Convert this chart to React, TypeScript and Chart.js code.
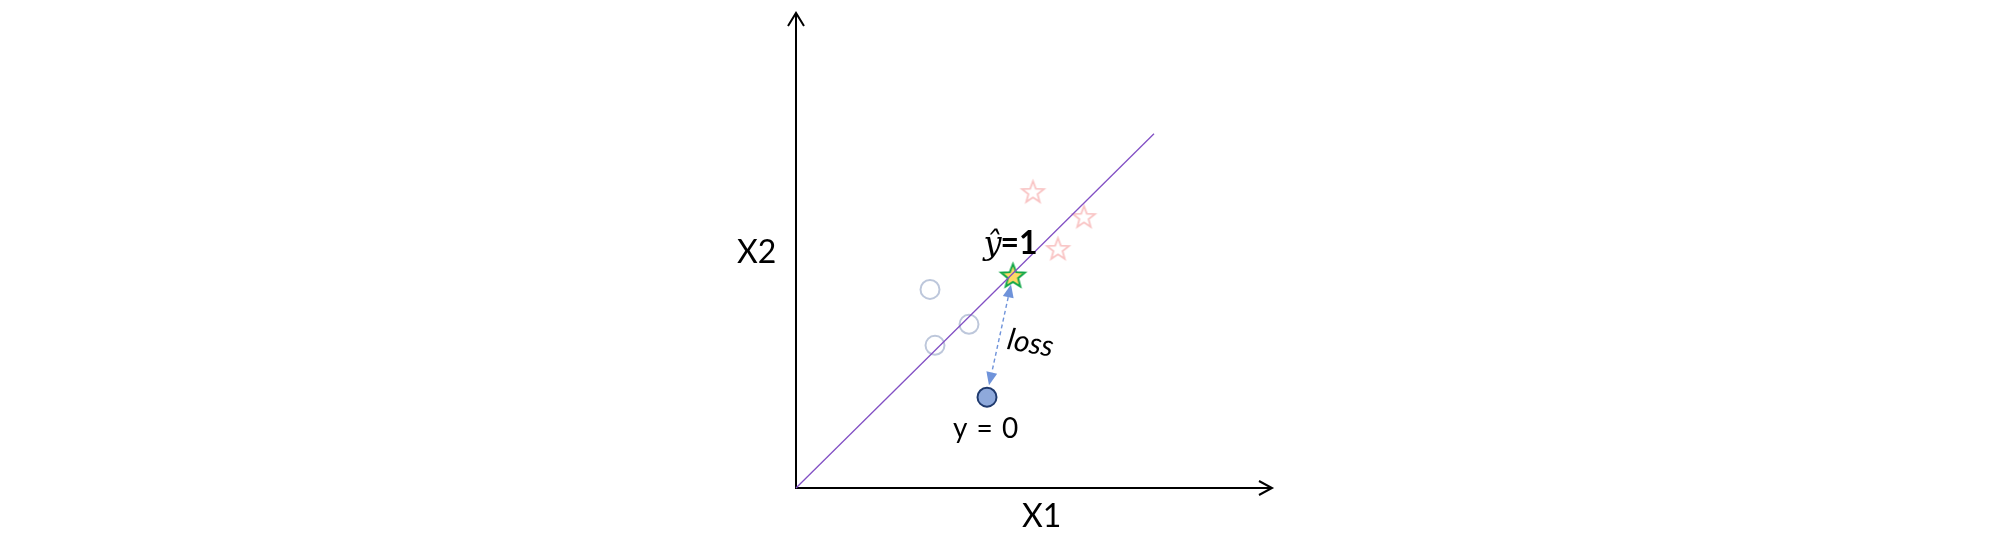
import React, { useEffect, useRef } from "react";
import { Chart, registerables } from "chart.js";
Chart.register(...registerables);

// axis extents (data units)
const AXIS_X_MAX = 47.6;
const AXIS_Y_MAX = 47.6;

// decision boundary
const boundaryX = [0, 35.8];
const boundaryY = [0, 35.5];

// class 1 samples (stars)
const class1X = [23.7, 28.8, 26.2];
const class1Y = [29.7, 27.2, 24.0];

// class 0 samples (circles)
const class0X = [13.4, 17.3, 13.9];
const class0Y = [19.9, 16.4, 14.3];

// predicted point (y-hat = 1)
const predX = [21.7];
const predY = [21.3];

// true point (y = 0)
const trueX = [19.1];
const trueY = [9.1];

// loss arrow endpoints
const lossFrom = [21.5, 20.4];
const lossTo = [19.3, 10.3];

// text labels
const labelTexts = ["X2", "X1", "y = 0", "loss"];
const labelX = [-3.93, 24.57, 18.95, 23.45];
const labelY = [23.63, -2.87, 5.9, 14.5];
const yhatLabel = { x: 21.5, y: 23.4 };

const toPts = (xs: number[], ys: number[]) => xs.map((x, i) => ({ x, y: ys[i] }));

function makeStar(outer: number, inner: number, fill: string, stroke: string, lw: number) {
  const size = Math.ceil(outer * 2 + lw * 2 + 2);
  const c = document.createElement("canvas");
  c.width = size;
  c.height = size;
  const ctx = c.getContext("2d")!;
  const cx = size / 2;
  const cy = size / 2 + 1;
  ctx.beginPath();
  for (let i = 0; i < 10; i++) {
    const r = i % 2 === 0 ? outer : inner;
    const a = -Math.PI / 2 + (i * Math.PI) / 5;
    const px = cx + r * Math.cos(a);
    const py = cy + r * Math.sin(a);
    if (i === 0) ctx.moveTo(px, py);
    else ctx.lineTo(px, py);
  }
  ctx.closePath();
  ctx.fillStyle = fill;
  ctx.fill();
  ctx.lineWidth = lw;
  ctx.strokeStyle = stroke;
  ctx.lineJoin = "miter";
  ctx.stroke();
  return c;
}

const FONT = "Lato, 'Open Sans', sans-serif";

export default function App() {
  const ref = useRef<HTMLCanvasElement>(null);
  useEffect(() => {
    document.body.style.margin = "0";
    const pinkStar = makeStar(11.5, 4.8, "#ffffff", "#F9C4C4", 1.8);
    const greenStar = makeStar(12.5, 5.4, "#FFD966", "#14A84A", 2);

    const overlay = {
      id: "overlay",
      beforeDatasetsDraw(chart: any) {
        const { ctx, scales } = chart;
        const xs = scales.x;
        const ys = scales.y;
        const ox = xs.getPixelForValue(0);
        const oy = ys.getPixelForValue(0);
        const tx = xs.getPixelForValue(AXIS_X_MAX);
        const ty = ys.getPixelForValue(AXIS_Y_MAX);
        ctx.save();
        ctx.strokeStyle = "#000";
        ctx.lineWidth = 2;
        ctx.lineCap = "butt";
        ctx.beginPath();
        ctx.moveTo(ox, oy + 1);
        ctx.lineTo(ox, ty);
        ctx.moveTo(ox - 1, oy);
        ctx.lineTo(tx, oy);
        ctx.stroke();
        // arrow heads
        ctx.lineJoin = "miter";
        ctx.beginPath();
        ctx.moveTo(ox - 8, ty + 13);
        ctx.lineTo(ox, ty);
        ctx.lineTo(ox + 8, ty + 13);
        ctx.moveTo(tx - 13, oy - 7);
        ctx.lineTo(tx, oy);
        ctx.lineTo(tx - 13, oy + 7);
        ctx.stroke();
        ctx.restore();
      },
      afterDatasetsDraw(chart: any) {
        const { ctx, scales } = chart;
        const xs = scales.x;
        const ys = scales.y;
        ctx.save();
        // dashed loss arrow
        const x1 = xs.getPixelForValue(lossFrom[0]);
        const y1 = ys.getPixelForValue(lossFrom[1]);
        const x2 = xs.getPixelForValue(lossTo[0]);
        const y2 = ys.getPixelForValue(lossTo[1]);
        const ang = Math.atan2(y2 - y1, x2 - x1);
        const hl = 13;
        const hw = 5.5;
        const col = "#6F93DA";
        ctx.strokeStyle = col;
        ctx.fillStyle = col;
        ctx.lineWidth = 1.4;
        ctx.setLineDash([4, 3]);
        ctx.beginPath();
        ctx.moveTo(x1 + Math.cos(ang) * hl, y1 + Math.sin(ang) * hl);
        ctx.lineTo(x2 - Math.cos(ang) * hl, y2 - Math.sin(ang) * hl);
        ctx.stroke();
        ctx.setLineDash([]);
        const head = (px: number, py: number, a: number) => {
          ctx.beginPath();
          ctx.moveTo(px, py);
          ctx.lineTo(px - Math.cos(a) * hl - Math.sin(a) * hw, py - Math.sin(a) * hl + Math.cos(a) * hw);
          ctx.lineTo(px - Math.cos(a) * hl + Math.sin(a) * hw, py - Math.sin(a) * hl - Math.cos(a) * hw);
          ctx.closePath();
          ctx.fill();
        };
        head(x2, y2, ang);
        head(x1, y1, ang + Math.PI);

        // labels
        ctx.fillStyle = "#000";
        ctx.textAlign = "center";
        ctx.textBaseline = "middle";
        const fonts = [
          `32px ${FONT}`,
          `32px ${FONT}`,
          `28px ${FONT}`,
          `italic 30px ${FONT}`,
        ];
        const spacing = ["0px", "0px", "2px", "0px"];
        const rots = [0, 0, 0, (10 * Math.PI) / 180];
        labelTexts.forEach((t, i) => {
          const px = xs.getPixelForValue(labelX[i]);
          const py = ys.getPixelForValue(labelY[i]);
          ctx.save();
          ctx.translate(px, py);
          ctx.rotate(rots[i]);
          ctx.font = fonts[i];
          (ctx as any).wordSpacing = spacing[i];
          ctx.fillText(t, 0, 0);
          ctx.restore();
        });
        // y-hat = 1
        const hx = xs.getPixelForValue(yhatLabel.x);
        const hy = ys.getPixelForValue(yhatLabel.y);
        ctx.textAlign = "left";
        ctx.textBaseline = "alphabetic";
        const yFont = `italic 32px 'DejaVu Serif', serif`;
        const rFont = `bold 32px ${FONT}`;
        ctx.font = yFont;
        const yw = ctx.measureText("ŷ").width;
        ctx.font = rFont;
        const rw = ctx.measureText("=1").width;
        const start = hx - (yw + rw) / 2;
        ctx.font = yFont;
        ctx.fillText("ŷ", start, hy);
        ctx.font = rFont;
        ctx.fillText("=1", start + yw - 1, hy);
        ctx.restore();
      },
    };

    const chart = new Chart(ref.current!, {
      type: "scatter",
      data: {
        datasets: [
          {
            type: "line",
            data: toPts(boundaryX, boundaryY),
            borderColor: "#8250C4",
            borderWidth: 1.3,
            pointRadius: 0,
            fill: false,
          } as any,
          {
            data: toPts(class0X, class0Y),
            pointStyle: "circle",
            pointRadius: 9.5,
            backgroundColor: "rgba(255,255,255,0)",
            borderColor: "#BDC7DB",
            borderWidth: 2,
          },
          {
            data: toPts(class1X, class1Y),
            pointStyle: pinkStar as any,
            pointRadius: 11,
          },
          {
            data: toPts(predX, predY),
            pointStyle: greenStar as any,
            pointRadius: 12,
          },
          {
            data: toPts(trueX, trueY),
            pointStyle: "circle",
            pointRadius: 9.5,
            backgroundColor: "#8EA9DB",
            borderColor: "#1F3A6E",
            borderWidth: 2,
          },
        ],
      },
      options: {
        animation: false,
        responsive: false,
        events: [],
        layout: { padding: { left: 796, right: 730, top: 12, bottom: 58 } },
        scales: {
          x: { type: "linear", min: 0, max: AXIS_X_MAX, display: false },
          y: { type: "linear", min: 0, max: AXIS_Y_MAX, display: false },
        },
        plugins: { legend: { display: false }, tooltip: { enabled: false } },
        clip: false as any,
      } as any,
      plugins: [overlay],
    });
    return () => chart.destroy();
  }, []);
  return (
    <div style={{ position: "absolute", left: 0, top: 0, width: 2002, height: 546, background: "#fff" }}>
      <canvas ref={ref} width={2002} height={546} style={{ display: "block" }} />
    </div>
  );
}
